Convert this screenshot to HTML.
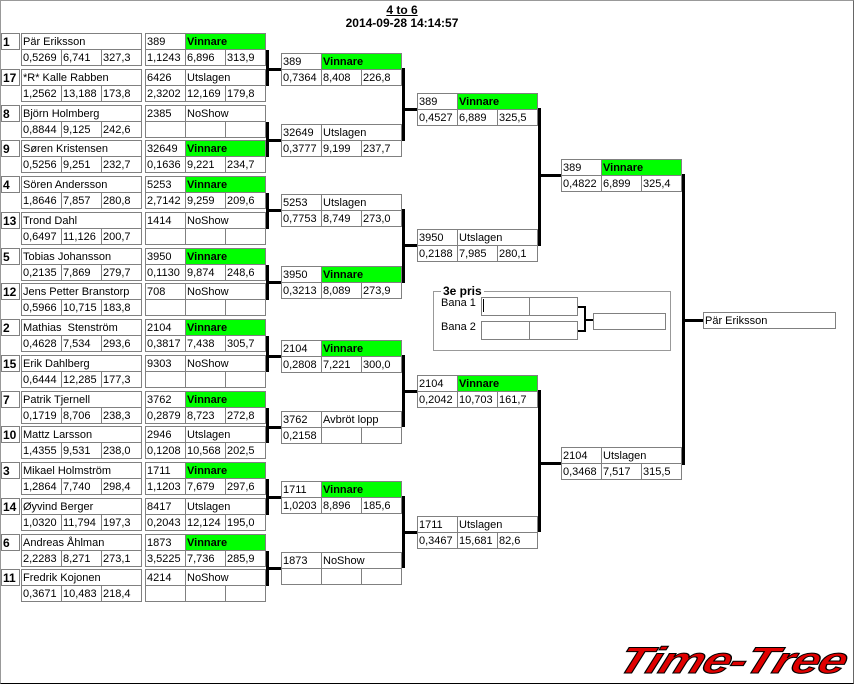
<!DOCTYPE html>
<html><head><meta charset="utf-8"><style>
body{margin:0;width:854px;height:684px;position:relative;background:#fff;overflow:hidden;font-family:"Liberation Sans",sans-serif}
#fr{position:absolute;left:0;top:0;width:854px;height:684px;box-sizing:border-box;border:1px solid #999;border-bottom-color:#000;border-right-color:#666}
.p,.m{position:absolute;left:0;top:0}
.m i,.s{position:absolute;box-sizing:border-box;height:17px;border:1px solid #808080;font-style:normal;font-size:11px;line-height:16px;padding-left:1px;white-space:nowrap;overflow:hidden;background:#fff;color:#000}
.s{left:1px;top:0;width:19px;font-weight:bold;font-size:12px}
.q0{left:0;top:0;width:41px}.q1{left:40px;top:0;width:81px}
.nm{left:0;top:0;width:121px}
.r0{left:0;top:16px;width:41px}.r1{left:40px;top:16px;width:41px}.r2{left:80px;top:16px;width:41px}
.m i.g{background:#00ff00;font-weight:bold}
.l{position:absolute;background:#000}
.t{position:absolute;font-size:11px;white-space:nowrap}
</style></head><body>
<div id="fr"></div>
<div class="t" style="left:0;width:804px;top:3px;text-align:center;font-weight:bold;font-size:12px;text-decoration:underline">4 to 6</div>
<div class="t" style="left:0;width:804px;top:16px;text-align:center;font-weight:bold;font-size:12px">2014-09-28 14:14:57</div>

<div class="p" style="top:33px"><b class="s">1</b><div class="m" style="left:21px"><i class="nm">Pär Eriksson</i><i class="r0">0,5269</i><i class="r1">6,741</i><i class="r2">327,3</i></div><div class="m" style="left:145px"><i class="q0">389</i><i class="q1 g">Vinnare</i><i class="r0">1,1243</i><i class="r1">6,896</i><i class="r2">313,9</i></div></div>
<div class="p" style="top:69px"><b class="s">17</b><div class="m" style="left:21px"><i class="nm">*R* Kalle Rabben</i><i class="r0">1,2562</i><i class="r1">13,188</i><i class="r2">173,8</i></div><div class="m" style="left:145px"><i class="q0">6426</i><i class="q1">Utslagen</i><i class="r0">2,3202</i><i class="r1">12,169</i><i class="r2">179,8</i></div></div>
<div class="p" style="top:105px"><b class="s">8</b><div class="m" style="left:21px"><i class="nm">Björn Holmberg</i><i class="r0">0,8844</i><i class="r1">9,125</i><i class="r2">242,6</i></div><div class="m" style="left:145px"><i class="q0">2385</i><i class="q1">NoShow</i><i class="r0"></i><i class="r1"></i><i class="r2"></i></div></div>
<div class="p" style="top:140px"><b class="s">9</b><div class="m" style="left:21px"><i class="nm">Søren Kristensen</i><i class="r0">0,5256</i><i class="r1">9,251</i><i class="r2">232,7</i></div><div class="m" style="left:145px"><i class="q0">32649</i><i class="q1 g">Vinnare</i><i class="r0">0,1636</i><i class="r1">9,221</i><i class="r2">234,7</i></div></div>
<div class="p" style="top:176px"><b class="s">4</b><div class="m" style="left:21px"><i class="nm">Sören Andersson</i><i class="r0">1,8646</i><i class="r1">7,857</i><i class="r2">280,8</i></div><div class="m" style="left:145px"><i class="q0">5253</i><i class="q1 g">Vinnare</i><i class="r0">2,7142</i><i class="r1">9,259</i><i class="r2">209,6</i></div></div>
<div class="p" style="top:212px"><b class="s">13</b><div class="m" style="left:21px"><i class="nm">Trond Dahl</i><i class="r0">0,6497</i><i class="r1">11,126</i><i class="r2">200,7</i></div><div class="m" style="left:145px"><i class="q0">1414</i><i class="q1">NoShow</i><i class="r0"></i><i class="r1"></i><i class="r2"></i></div></div>
<div class="p" style="top:248px"><b class="s">5</b><div class="m" style="left:21px"><i class="nm">Tobias Johansson</i><i class="r0">0,2135</i><i class="r1">7,869</i><i class="r2">279,7</i></div><div class="m" style="left:145px"><i class="q0">3950</i><i class="q1 g">Vinnare</i><i class="r0">0,1130</i><i class="r1">9,874</i><i class="r2">248,6</i></div></div>
<div class="p" style="top:283px"><b class="s">12</b><div class="m" style="left:21px"><i class="nm">Jens Petter Branstorp</i><i class="r0">0,5966</i><i class="r1">10,715</i><i class="r2">183,8</i></div><div class="m" style="left:145px"><i class="q0">708</i><i class="q1">NoShow</i><i class="r0"></i><i class="r1"></i><i class="r2"></i></div></div>
<div class="p" style="top:319px"><b class="s">2</b><div class="m" style="left:21px"><i class="nm">Mathias&nbsp; Stenström</i><i class="r0">0,4628</i><i class="r1">7,534</i><i class="r2">293,6</i></div><div class="m" style="left:145px"><i class="q0">2104</i><i class="q1 g">Vinnare</i><i class="r0">0,3817</i><i class="r1">7,438</i><i class="r2">305,7</i></div></div>
<div class="p" style="top:355px"><b class="s">15</b><div class="m" style="left:21px"><i class="nm">Erik Dahlberg</i><i class="r0">0,6444</i><i class="r1">12,285</i><i class="r2">177,3</i></div><div class="m" style="left:145px"><i class="q0">9303</i><i class="q1">NoShow</i><i class="r0"></i><i class="r1"></i><i class="r2"></i></div></div>
<div class="p" style="top:391px"><b class="s">7</b><div class="m" style="left:21px"><i class="nm">Patrik Tjernell</i><i class="r0">0,1719</i><i class="r1">8,706</i><i class="r2">238,3</i></div><div class="m" style="left:145px"><i class="q0">3762</i><i class="q1 g">Vinnare</i><i class="r0">0,2879</i><i class="r1">8,723</i><i class="r2">272,8</i></div></div>
<div class="p" style="top:426px"><b class="s">10</b><div class="m" style="left:21px"><i class="nm">Mattz Larsson</i><i class="r0">1,4355</i><i class="r1">9,531</i><i class="r2">238,0</i></div><div class="m" style="left:145px"><i class="q0">2946</i><i class="q1">Utslagen</i><i class="r0">0,1208</i><i class="r1">10,568</i><i class="r2">202,5</i></div></div>
<div class="p" style="top:462px"><b class="s">3</b><div class="m" style="left:21px"><i class="nm">Mikael Holmström</i><i class="r0">1,2864</i><i class="r1">7,740</i><i class="r2">298,4</i></div><div class="m" style="left:145px"><i class="q0">1711</i><i class="q1 g">Vinnare</i><i class="r0">1,1203</i><i class="r1">7,679</i><i class="r2">297,6</i></div></div>
<div class="p" style="top:498px"><b class="s">14</b><div class="m" style="left:21px"><i class="nm">Øyvind Berger</i><i class="r0">1,0320</i><i class="r1">11,794</i><i class="r2">197,3</i></div><div class="m" style="left:145px"><i class="q0">8417</i><i class="q1">Utslagen</i><i class="r0">0,2043</i><i class="r1">12,124</i><i class="r2">195,0</i></div></div>
<div class="p" style="top:534px"><b class="s">6</b><div class="m" style="left:21px"><i class="nm">Andreas Åhlman</i><i class="r0">2,2283</i><i class="r1">8,271</i><i class="r2">273,1</i></div><div class="m" style="left:145px"><i class="q0">1873</i><i class="q1 g">Vinnare</i><i class="r0">3,5225</i><i class="r1">7,736</i><i class="r2">285,9</i></div></div>
<div class="p" style="top:569px"><b class="s">11</b><div class="m" style="left:21px"><i class="nm">Fredrik Kojonen</i><i class="r0">0,3671</i><i class="r1">10,483</i><i class="r2">218,4</i></div><div class="m" style="left:145px"><i class="q0">4214</i><i class="q1">NoShow</i><i class="r0"></i><i class="r1"></i><i class="r2"></i></div></div>

<!-- round 2 -->
<div class="m" style="left:281px;top:53px"><i class="q0">389</i><i class="q1 g">Vinnare</i><i class="r0">0,7364</i><i class="r1">8,408</i><i class="r2">226,8</i></div>
<div class="m" style="left:281px;top:124px"><i class="q0">32649</i><i class="q1">Utslagen</i><i class="r0">0,3777</i><i class="r1">9,199</i><i class="r2">237,7</i></div>
<div class="m" style="left:281px;top:194px"><i class="q0">5253</i><i class="q1">Utslagen</i><i class="r0">0,7753</i><i class="r1">8,749</i><i class="r2">273,0</i></div>
<div class="m" style="left:281px;top:266px"><i class="q0">3950</i><i class="q1 g">Vinnare</i><i class="r0">0,3213</i><i class="r1">8,089</i><i class="r2">273,9</i></div>
<div class="m" style="left:281px;top:340px"><i class="q0">2104</i><i class="q1 g">Vinnare</i><i class="r0">0,2808</i><i class="r1">7,221</i><i class="r2">300,0</i></div>
<div class="m" style="left:281px;top:411px"><i class="q0">3762</i><i class="q1">Avbröt lopp</i><i class="r0">0,2158</i><i class="r1"></i><i class="r2"></i></div>
<div class="m" style="left:281px;top:481px"><i class="q0">1711</i><i class="q1 g">Vinnare</i><i class="r0">1,0203</i><i class="r1">8,896</i><i class="r2">185,6</i></div>
<div class="m" style="left:281px;top:552px"><i class="q0">1873</i><i class="q1">NoShow</i><i class="r0"></i><i class="r1"></i><i class="r2"></i></div>

<!-- round 3 -->
<div class="m" style="left:417px;top:93px"><i class="q0">389</i><i class="q1 g">Vinnare</i><i class="r0">0,4527</i><i class="r1">6,889</i><i class="r2">325,5</i></div>
<div class="m" style="left:417px;top:229px"><i class="q0">3950</i><i class="q1">Utslagen</i><i class="r0">0,2188</i><i class="r1">7,985</i><i class="r2">280,1</i></div>
<div class="m" style="left:417px;top:375px"><i class="q0">2104</i><i class="q1 g">Vinnare</i><i class="r0">0,2042</i><i class="r1">10,703</i><i class="r2">161,7</i></div>
<div class="m" style="left:417px;top:516px"><i class="q0">1711</i><i class="q1">Utslagen</i><i class="r0">0,3467</i><i class="r1">15,681</i><i class="r2">82,6</i></div>

<!-- round 4 -->
<div class="m" style="left:561px;top:159px"><i class="q0">389</i><i class="q1 g">Vinnare</i><i class="r0">0,4822</i><i class="r1">6,899</i><i class="r2">325,4</i></div>
<div class="m" style="left:561px;top:447px"><i class="q0">2104</i><i class="q1">Utslagen</i><i class="r0">0,3468</i><i class="r1">7,517</i><i class="r2">315,5</i></div>

<div class="m" style="left:703px;top:312px"><i class="nm" style="width:133px">Pär Eriksson</i></div>

<!-- connectors R1->R2 -->
<div class="l" style="left:266px;top:50px;width:3px;height:36px"></div><div class="l" style="left:266px;top:68px;width:15px;height:3px"></div>
<div class="l" style="left:266px;top:122px;width:3px;height:35px"></div><div class="l" style="left:266px;top:139px;width:15px;height:3px"></div>
<div class="l" style="left:266px;top:193px;width:3px;height:36px"></div><div class="l" style="left:266px;top:209px;width:15px;height:3px"></div>
<div class="l" style="left:266px;top:265px;width:3px;height:35px"></div><div class="l" style="left:266px;top:281px;width:15px;height:3px"></div>
<div class="l" style="left:266px;top:336px;width:3px;height:36px"></div><div class="l" style="left:266px;top:355px;width:15px;height:3px"></div>
<div class="l" style="left:266px;top:408px;width:3px;height:35px"></div><div class="l" style="left:266px;top:426px;width:15px;height:3px"></div>
<div class="l" style="left:266px;top:479px;width:3px;height:36px"></div><div class="l" style="left:266px;top:496px;width:15px;height:3px"></div>
<div class="l" style="left:266px;top:551px;width:3px;height:35px"></div><div class="l" style="left:266px;top:567px;width:15px;height:3px"></div>
<!-- R2->R3 -->
<div class="l" style="left:402px;top:68px;width:3px;height:73px"></div><div class="l" style="left:402px;top:108px;width:15px;height:3px"></div>
<div class="l" style="left:402px;top:209px;width:3px;height:74px"></div><div class="l" style="left:402px;top:244px;width:15px;height:3px"></div>
<div class="l" style="left:402px;top:355px;width:3px;height:72px"></div><div class="l" style="left:402px;top:390px;width:15px;height:3px"></div>
<div class="l" style="left:402px;top:496px;width:3px;height:72px"></div><div class="l" style="left:402px;top:531px;width:15px;height:3px"></div>
<!-- R3->R4 -->
<div class="l" style="left:538px;top:108px;width:3px;height:138px"></div><div class="l" style="left:538px;top:174px;width:23px;height:3px"></div>
<div class="l" style="left:538px;top:390px;width:3px;height:142px"></div><div class="l" style="left:538px;top:462px;width:23px;height:3px"></div>
<!-- R4->final -->
<div class="l" style="left:682px;top:174px;width:3px;height:291px"></div><div class="l" style="left:682px;top:319px;width:21px;height:3px"></div>

<!-- 3e pris -->
<div style="position:absolute;left:433px;top:291px;width:238px;height:60px;box-sizing:border-box;border:1px solid #999"></div>
<div class="t" style="left:441px;top:284px;background:#fff;padding:0 2px;font-weight:bold;font-size:12px">3e pris</div>
<div class="t" style="left:441px;top:297px">Bana 1</div>
<div class="t" style="left:441px;top:321px">Bana 2</div>
<div class="m" style="left:481px;top:297px"><i style="left:0;top:0;width:49px;height:19px"></i><i style="left:48px;top:0;width:49px;height:19px"></i><i style="left:0;top:24px;width:49px;height:19px"></i><i style="left:48px;top:24px;width:49px;height:19px"></i></div>
<div class="l" style="left:483px;top:299px;width:1px;height:13px"></div>
<div class="l" style="left:578px;top:306px;width:7px;height:2px"></div>
<div class="l" style="left:578px;top:330px;width:7px;height:2px"></div>
<div class="l" style="left:584px;top:306px;width:2px;height:26px"></div>
<div class="l" style="left:584px;top:319px;width:9px;height:2px"></div>
<div class="m" style="left:593px;top:313px"><i style="left:0;top:0;width:73px;height:17px"></i></div>

<!-- logo -->
<div class="t" style="left:612px;top:640px;font-size:37px;font-weight:bold;font-style:italic;color:#e00000;-webkit-text-stroke:1px #000;letter-spacing:-1px;transform:skewX(-20deg) scaleX(1.36);transform-origin:left bottom">Time-Tree</div>
</body></html>
